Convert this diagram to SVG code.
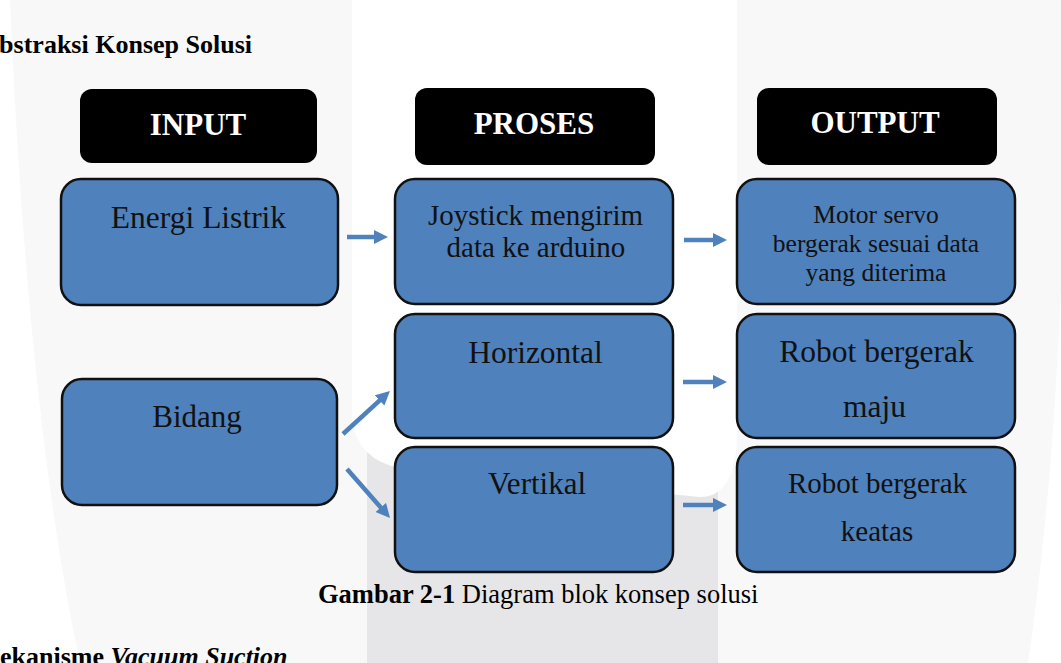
<svg xmlns="http://www.w3.org/2000/svg" width="1061" height="663" viewBox="0 0 1061 663">
<style>
.hdr{fill:#000;}
.hdrt{fill:#fff;font-family:"Liberation Serif",serif;font-weight:bold;text-anchor:middle;}
.box{fill:#4f81bd;stroke:#111;stroke-width:2.5;}
.bt{fill:#111;font-family:"Liberation Serif",serif;text-anchor:middle;}
.arr{stroke:#4f81bd;stroke-width:4.5;fill:none;marker-end:url(#ah);}
.doc{fill:#000;font-family:"Liberation Serif",serif;font-weight:bold;font-size:26px;}
</style>
<defs>
<marker id="ah" markerUnits="userSpaceOnUse" markerWidth="15" markerHeight="15" refX="2" refY="7" orient="auto" viewBox="0 0 15 15">
<path d="M0,0 L14,7 L0,14 Z" fill="#4f81bd"/>
</marker>
</defs>
<g id="background">
<rect x="0" y="0" width="1061" height="663" fill="#f8f8f8"/>
<path d="M0,0 L10,0 Q28,420 80,663 L0,663 Z" fill="#fff"/>
<path d="M1061,290 Q1052,500 1028,663 L1061,663 Z" fill="#fff"/>
<rect x="367" y="380" width="351" height="283" fill="#e6e6e8"/>
<path d="M352,0 L737,0 L737,430 Q737,497 700,497 L400,468 Q358,460 352,420 Z" fill="#fff"/>
</g>
<text class="doc" x="252" y="53" text-anchor="end">Abstraksi Konsep Solusi</text>
<g id="hdr-input"><rect class="hdr" x="80" y="89" width="237" height="74" rx="12"/><text class="hdrt" x="198" y="135" font-size="31">INPUT</text></g>
<g id="hdr-proses"><rect class="hdr" x="415" y="88" width="240" height="77" rx="12"/><text class="hdrt" x="534" y="134" font-size="31">PROSES</text></g>
<g id="hdr-output"><rect class="hdr" x="757" y="88" width="240" height="77" rx="12"/><text class="hdrt" x="875" y="133" font-size="31">OUTPUT</text></g>
<g id="n-energi"><rect class="box" x="61" y="179" width="277" height="126" rx="20"/><text class="bt" x="198.5" y="228" font-size="31.5">Energi Listrik</text></g>
<g id="n-joystick"><rect class="box" x="395" y="179" width="278" height="125" rx="20"/><text class="bt" x="535.5" y="225" font-size="29">Joystick mengirim</text><text class="bt" x="536" y="257" font-size="29">data ke arduino</text></g>
<g id="n-motor"><rect class="box" x="737" y="179" width="278" height="125" rx="20"/><text class="bt" x="876" y="223" font-size="25.5">Motor servo</text><text class="bt" x="876" y="252" font-size="25.5">bergerak sesuai data</text><text class="bt" x="876" y="281" font-size="25.5">yang diterima</text></g>
<g id="n-bidang"><rect class="box" x="62" y="379" width="275" height="126" rx="20"/><text class="bt" x="197" y="427" font-size="31">Bidang</text></g>
<g id="n-horizontal"><rect class="box" x="395" y="314" width="278" height="124" rx="20"/><text class="bt" x="535.5" y="363" font-size="31.5">Horizontal</text></g>
<g id="n-vertikal"><rect class="box" x="395" y="447" width="278" height="125" rx="20"/><text class="bt" x="537" y="494" font-size="31">Vertikal</text></g>
<g id="n-maju"><rect class="box" x="737" y="314" width="278" height="124" rx="20"/><text class="bt" x="876.5" y="362" font-size="31.5">Robot bergerak</text><text class="bt" x="874.5" y="417" font-size="31.5">maju</text></g>
<g id="n-keatas"><rect class="box" x="737" y="447" width="278" height="125" rx="20"/><text class="bt" x="877.5" y="493" font-size="29">Robot bergerak</text><text class="bt" x="877" y="541" font-size="29">keatas</text></g>
<g id="connectors">
<line class="arr" x1="347" y1="237" x2="376" y2="237"/>
<line class="arr" x1="684" y1="240" x2="715" y2="240"/>
<line class="arr" x1="683" y1="382" x2="715" y2="382"/>
<line class="arr" x1="683" y1="505" x2="715" y2="505"/>
<line class="arr" x1="343" y1="434" x2="381.1" y2="399.1"/>
<line class="arr" x1="347" y1="469" x2="382.1" y2="509"/>
</g>
<text x="318" y="603" font-family="'Liberation Serif',serif" font-size="26.5" fill="#000"><tspan font-weight="bold">Gambar 2-1</tspan> Diagram blok konsep solusi</text>
<text class="doc" x="-24.5" y="665">Mekanisme <tspan font-style="italic">Vacuum Suction</tspan></text>
</svg>
